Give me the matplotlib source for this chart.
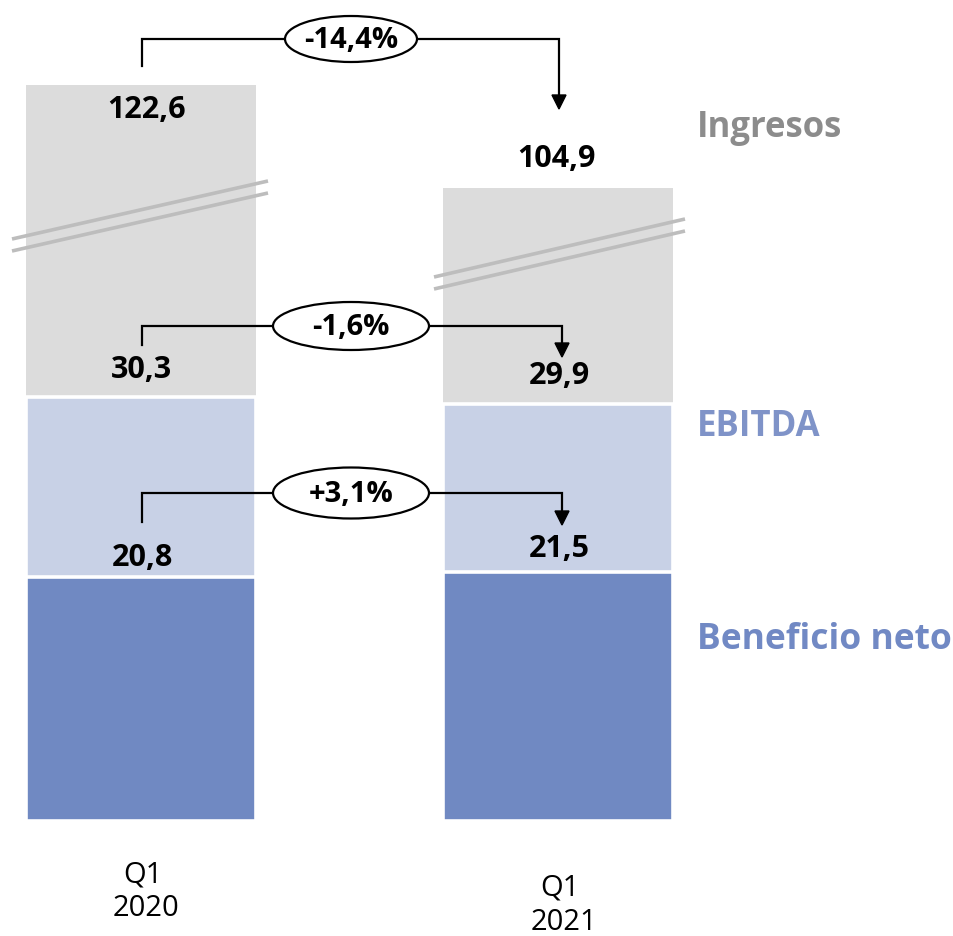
import numpy as np
import matplotlib
matplotlib.use("Agg")
import matplotlib.pyplot as plt
from matplotlib.patches import Ellipse, Polygon

# ---------------- data ----------------
periods = ["Q1\n2020", "Q1\n2021"]
ingresos = [122.6, 104.9]
ebitda = [30.3, 29.9]
beneficio = [20.8, 21.5]
changes = ["-14,4%", "-1,6%", "+3,1%"]
series_names = ["Ingresos", "EBITDA", "Beneficio neto"]

def fmt(v):
    return f"{v:.1f}".replace(".", ",")

# broken (non-linear) value scale of the original slide
SCALE_VALUES = [-20, 0, 21, 22, 29, 31, 100, 130, 160]
SCALE_PIXELS = [-234, 0, 246, 253, 402, 436, 604, 779, 954]

def fwd(v):
    return np.interp(v, SCALE_VALUES, SCALE_PIXELS)

def inv(h):
    return np.interp(h, SCALE_PIXELS, SCALE_VALUES)

plt.rcParams['font.family'] = ['Open Sans', 'DejaVu Sans']

W, H = 954, 937
fig = plt.figure(figsize=(W / 100, H / 100), dpi=100)
ax = fig.add_axes([0, 0, 1, 1])
ax.set_yscale('function', functions=(fwd, inv))
ax.set_xlim(-141 / 417, (W - 141) / 417)
ax.set_ylim(float(inv(-115)), float(inv(822)))
ax.axis('off')

x = np.arange(len(periods))
c_ing, c_ebi, c_net = "#dcdcdc", "#c8d1e6", "#7089c2"
bw = 0.55
ax.bar(x, ingresos, width=bw, color=c_ing, edgecolor="white", linewidth=0, zorder=1)
ax.bar(x, ebitda, width=bw, color=c_ebi, edgecolor="white", linewidth=2.6, zorder=2)
ax.bar(x, beneficio, width=bw, color=c_net, edgecolor="white", linewidth=2.6, zorder=3)

# value labels
lab_kw = dict(textcoords="offset points", ha="center", va="center",
              fontsize=22, fontweight="bold", color="black", zorder=6)
ax.annotate(fmt(ingresos[0]), xy=(x[0], ingresos[0]), xytext=(4, -17), **lab_kw)
ax.annotate(fmt(ingresos[1]), xy=(x[1], ingresos[1]), xytext=(-1, 22), **lab_kw)
ax.annotate(fmt(ebitda[0]), xy=(x[0], ebitda[0]), xytext=(0, 20), **lab_kw)
ax.annotate(fmt(ebitda[1]), xy=(x[1], ebitda[1]), xytext=(1, 21), **lab_kw)
ax.annotate(fmt(beneficio[0]), xy=(x[0], beneficio[0]), xytext=(1, 15), **lab_kw)
ax.annotate(fmt(beneficio[1]), xy=(x[1], beneficio[1]), xytext=(1, 17), **lab_kw)

# ---------------- overlay in pixel coordinates ----------------
ov = fig.add_axes([0, 0, 1, 1], zorder=5)
ov.set_xlim(0, W)
ov.set_ylim(H, 0)
ov.axis('off')
ov.patch.set_alpha(0)

# axis-break marks
brk = "#bdbdbd"
for (x0, y0, x1, y1) in [(12, 240, 268, 182), (12, 252, 268, 194),
                         (434, 278, 685, 220), (434, 290, 685, 232)]:
    ov.plot([x0, x1], [y0, y1], color=brk, lw=2.6, solid_capstyle="butt", zorder=2)

# change brackets
def bracket(y_line, y_left, x_right, y_tip, ecx, ew, eh, txt):
    ov.plot([142, 142, x_right, x_right], [y_left, y_line, y_line, y_tip - 12],
            color="black", lw=1.6, zorder=3, solid_joinstyle="miter")
    ov.add_patch(Polygon([[x_right - 7, y_tip - 14], [x_right + 7, y_tip - 14],
                          [x_right, y_tip]], closed=True, color="black", zorder=3))
    ov.add_patch(Ellipse((ecx, y_line), ew, eh, facecolor="white",
                         edgecolor="black", lw=1.6, zorder=4))
    ov.text(ecx, y_line + 1, txt, ha="center", va="center", fontsize=21,
            fontweight="bold", color="black", zorder=5)

bracket(40, 67, 559, 110, 351, 132, 46, changes[0])
bracket(327, 346, 562, 358, 351, 156, 48, changes[1])
bracket(494, 523, 562, 526, 351, 156, 51, changes[2])

# series names
ov.text(697, 128, series_names[0], ha="left", va="center", fontsize=25,
        fontweight="bold", color="#8c8c8c")
ov.text(697, 427, series_names[1], ha="left", va="center", fontsize=25,
        fontweight="bold", color="#7f93c8")
ov.text(697, 640, series_names[2], ha="left", va="center", fontsize=25.5,
        fontweight="bold", color="#7189c4")

# period labels
ov.text(143, 875, "Q1", ha="center", va="center", fontsize=21, color="black")
ov.text(146, 909, "2020", ha="center", va="center", fontsize=21, color="black")
ov.text(560, 888, "Q1", ha="center", va="center", fontsize=21, color="black")
ov.text(564, 923, "2021", ha="center", va="center", fontsize=21, color="black")

fig.savefig("out.png", dpi=100)
